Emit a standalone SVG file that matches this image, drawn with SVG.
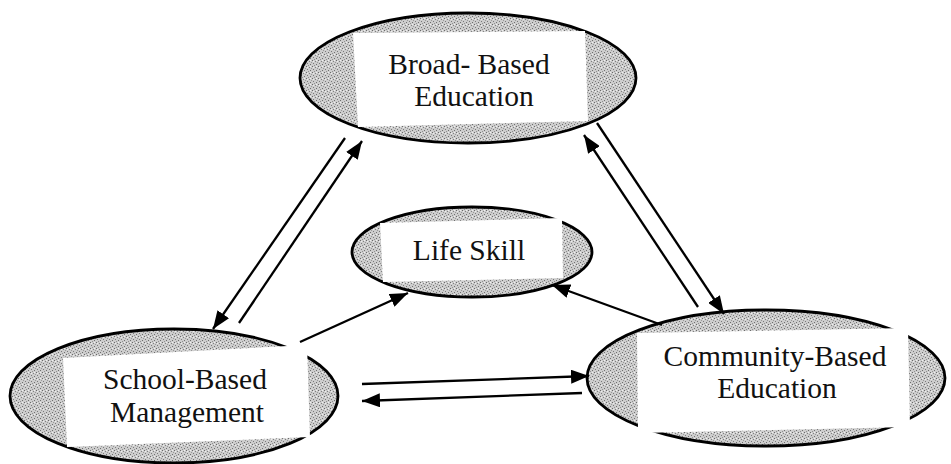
<svg xmlns="http://www.w3.org/2000/svg" width="951" height="464" viewBox="0 0 951 464">
<defs>
<style>
.ell{fill:url(#stip);stroke:#000;stroke-width:2.8}
.box{fill:#fff;stroke:none}
.lbl{font-family:"Liberation Serif","Times New Roman",serif;font-size:29.5px;fill:#111;text-anchor:middle}
.con{stroke:#000;stroke-width:2.3;fill:none}
.arr{marker-end:url(#ah)}
</style>
<pattern id="stip" width="6" height="6" patternUnits="userSpaceOnUse">
<rect width="6" height="6" fill="#cdcdcd"/>
<rect x="0" y="0" width="1" height="1" fill="#6a6a6a"/>
<rect x="3" y="1" width="1" height="1" fill="#808080"/>
<rect x="1" y="3" width="1" height="1" fill="#7a7a7a"/>
<rect x="4" y="4" width="1" height="1" fill="#6e6e6e"/>
<rect x="5" y="2" width="1" height="1" fill="#999"/>
<rect x="2" y="5" width="1" height="1" fill="#909090"/>
<rect x="4" y="0" width="1" height="1" fill="#f0f0f0"/>
<rect x="1" y="1" width="1" height="1" fill="#eee"/>
</pattern>
<marker id="ah" markerUnits="userSpaceOnUse" markerWidth="19" markerHeight="14" refX="18" refY="7" orient="auto">
<path d="M0,0 L18,7 L0,14 z" fill="#000"/>
</marker>
</defs>
<rect width="951" height="464" fill="#fff"/>
<g id="node-broad">
<ellipse class="ell" cx="468" cy="78" rx="168" ry="65"/>
<polygon class="box" points="353,33 585,31 588,121 358,127"/>
<text class="lbl" x="469" y="74">Broad- Based</text>
<text class="lbl" x="474" y="106">Education</text>
</g>
<g id="node-life">
<ellipse class="ell" cx="472" cy="252" rx="120" ry="45"/>
<polygon class="box" points="380,223 562,218 563,278 383,282"/>
<text class="lbl" x="469" y="260">Life Skill</text>
</g>
<g id="node-school">
<ellipse class="ell" cx="174" cy="396" rx="164" ry="67"/>
<polygon class="box" points="63,358 307,345 310,437 67,447"/>
<text class="lbl" x="185" y="389">School-Based</text>
<text class="lbl" x="187" y="422">Management</text>
</g>
<g id="node-community">
<ellipse class="ell" cx="766" cy="378" rx="179" ry="68"/>
<polygon class="box" points="637,333 908,328 910,427 638,433"/>
<text class="lbl" x="775" y="366">Community-Based</text>
<text class="lbl" x="777" y="398">Education</text>
</g>
<g id="connectors">
<line class="con arr" x1="345" y1="138" x2="213" y2="329"/>
<line class="con arr" x1="239" y1="323" x2="362" y2="141"/>
<line class="con arr" x1="597" y1="123" x2="724" y2="314"/>
<line class="con arr" x1="698" y1="307" x2="584" y2="135"/>
<line class="con arr" x1="362" y1="384" x2="589" y2="376"/>
<line class="con arr" x1="582" y1="393" x2="362" y2="401"/>
<line class="con arr" x1="300" y1="342" x2="408" y2="293"/>
<line class="con arr" x1="662" y1="325" x2="552" y2="285"/>
</g>
</svg>
